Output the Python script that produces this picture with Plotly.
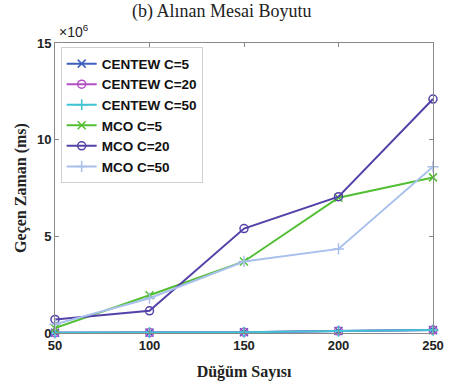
import plotly.graph_objects as go

nodes = [50, 100, 150, 200, 250]
centew_c5 = [0.01, 0.02, 0.04, 0.10, 0.15]
centew_c20 = [0.01, 0.02, 0.04, 0.10, 0.15]
centew_c50 = [0.01, 0.02, 0.04, 0.10, 0.15]
mco_c5 = [0.25, 1.95, 3.7, 7.0, 8.05]
mco_c20 = [0.7, 1.15, 5.4, 7.05, 12.1]
mco_c50 = [0.45, 1.8, 3.7, 4.35, 8.6]

names = ["CENTEW C=5", "CENTEW C=20", "CENTEW C=50", "MCO C=5", "MCO C=20", "MCO C=50"]
series = [centew_c5, centew_c20, centew_c50, mco_c5, mco_c20, mco_c50]
colors = ["#3f5fbf", "#b24fc4", "#3fc4d6", "#52bf33", "#5541a8", "#a9c0ec"]
symbols = ["x-thin-open", "circle-open", "cross-thin-open", "x-thin-open", "circle-open", "cross-thin-open"]

fig = go.Figure()
for name, ys, col, sym in zip(names, series, colors, symbols):
    fig.add_trace(go.Scatter(
        x=nodes, y=ys, name=name, mode="lines+markers",
        line=dict(color=col, width=2),
        marker=dict(symbol=sym, size=8, color=col, line=dict(color=col, width=1.5)),
        cliponaxis=False,
    ))

tickfont = dict(family="Liberation Sans, Arial", size=13, color="#222", weight="bold")
serif = "Liberation Serif, Times New Roman"

fig.update_layout(
    width=460, height=392,
    margin=dict(l=55, r=27, t=43, b=59),
    paper_bgcolor="white", plot_bgcolor="white",
    showlegend=True,
    legend=dict(
        x=0.015, y=0.985, xanchor="left", yanchor="top",
        bgcolor="white", bordercolor="#d0d0d0", borderwidth=1,
        font=dict(family="Liberation Sans, Arial", size=13.5, color="#111", weight="bold"),
        tracegroupgap=0, itemwidth=30,
    ),
    xaxis=dict(
        range=[50, 250], tickvals=nodes, ticktext=[str(v) for v in nodes],
        showgrid=False, zeroline=False, showline=True, linecolor="#888", linewidth=1,
        mirror="ticks", ticks="inside", ticklen=4, tickcolor="#888",
        tickfont=tickfont,
        title=dict(text="Düğüm Sayısı", font=dict(family=serif, size=16, color="#222", weight="bold"), standoff=14),
    ),
    yaxis=dict(
        range=[0, 15], tickvals=[0, 5, 10, 15],
        showgrid=False, zeroline=False, showline=True, linecolor="#888", linewidth=1,
        mirror="ticks", ticks="inside", ticklen=4, tickcolor="#888",
        tickfont=tickfont,
        title=dict(text="Geçen Zaman (ms)", font=dict(family=serif, size=16, color="#222", weight="bold"), standoff=6),
    ),
    annotations=[
        dict(text="(b) Alınan Mesai Boyutu", xref="paper", yref="paper", x=0.44, y=1.0,
             yshift=32, xanchor="center", yanchor="middle", showarrow=False,
             font=dict(family=serif, size=18, color="#222")),
        dict(text="×10<sup>6</sup>", xref="paper", yref="paper", x=0.0, y=1.0,
             xshift=2, yshift=1, xanchor="left", yanchor="bottom", showarrow=False,
             font=dict(family="Liberation Sans, Arial", size=14, color="#222")),
    ],
)

fig.write_html("out.html")
